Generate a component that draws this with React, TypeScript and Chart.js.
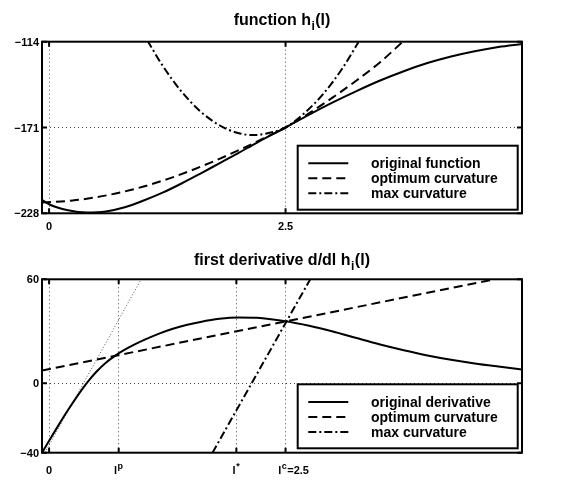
import React, { useEffect, useRef } from "react";
import { Chart, registerables } from "chart.js";

Chart.register(...registerables);

// ---------------- upper panel: function h_i(l) ----------------
const topTitle = "function h_i(l)";
const topLegend = ["original function", "optimum curvature", "max curvature"];
const topXTicks = [0, 2.5];
const topXTickLabels = ["0", "2.5"];
const topYTicks = [-228, -171, -114];
const topYTickLabels = ["\u2212228", "\u2212171", "\u2212114"];

const topOrigL = [-0.075, 0, 0.2, 0.4, 0.6, 0.8, 1.0, 1.2, 1.4, 1.6, 1.8, 2.0, 2.2, 2.5, 2.75, 3.0, 3.25, 3.5, 3.75, 4.0, 4.25, 4.5, 4.75, 5.0];
const topOrigH = [-219, -222, -226, -227.5, -226.8, -224, -219.5, -214.3, -208.2, -201.6, -194.8, -188, -181, -171, -162.4, -154.3, -146.8, -139.8, -133.6, -128.2, -123.8, -120.3, -117.5, -115.5];

const topOptL = [-0.075, 0.25, 0.5, 0.75, 1.0, 1.25, 1.5, 1.75, 2.0, 2.25, 2.5, 2.75, 3.0, 3.25, 3.5, 3.74];
const topOptH = [-220.8, -219.5, -217.3, -214.2, -210.2, -205.3, -199.6, -193.2, -186.2, -178.8, -171, -161.5, -151, -139.8, -127.6, -114];

const topMaxL = [1.04, 1.2, 1.4, 1.6, 1.8, 2.0, 2.16, 2.3, 2.5, 2.7, 2.9, 3.1, 3.27];
const topMaxH = [-113.3, -129.9, -147.1, -160.3, -169.5, -174.7, -176, -175, -171, -161.4, -148.6, -131.8, -114.4];

// ---------------- lower panel: first derivative ----------------
const botTitle = "first derivative d/dl h_i(l)";
const botLegend = ["original derivative", "optimum curvature", "max curvature"];
const botXTicks = [0, 0.736, 1.98, 2.5];
const botXTickLabels = ["0", "l^p", "l^*", "l^c=2.5"];
const botYTicks = [-40, 0, 60];
const botYTickLabels = ["\u221240", "0", "60"];

const botDerivL = [-0.075, 0, 0.1, 0.2, 0.3, 0.4, 0.5, 0.6, 0.7, 0.8, 0.9, 1.0, 1.15, 1.3, 1.45, 1.6, 1.8, 2.0, 2.2, 2.5, 2.75, 3.0, 3.25, 3.5, 3.75, 4.0, 4.25, 4.5, 4.75, 5.0];
const botDerivD = [-40, -33.1, -24.1, -15.4, -7.2, 0.3, 6.7, 11.9, 16.0, 19.4, 22.3, 24.9, 28.4, 31.3, 33.6, 35.4, 37.2, 38, 37.8, 35.8, 33.2, 29.9, 26.1, 22.4, 19.1, 16.1, 13.6, 11.5, 9.7, 8];

const botOptL = [-0.075, 4.71];
const botOptD = [7.4, 60];

const botMaxL = [1.728, 2.761];
const botMaxD = [-40, 60];

const botTanL = [-0.044, 0.973];
const botTanD = [-40, 60];

// ---------------- styling ----------------
const FAMILY = "'Liberation Sans', Arial, Helvetica, sans-serif";
const DASHED = [9, 5];
const DASHDOT = [8, 3, 2, 3];
const X_MIN = -0.075;
const X_MAX = 5.0;

type Seg = { t: string; mode: number };

function parseRich(text: string): Seg[] {
  const segs: Seg[] = [];
  let i = 0;
  while (i < text.length) {
    const c = text[i];
    if ((c === "^" || c === "_") && i + 1 < text.length) {
      segs.push({ t: text[i + 1], mode: c === "^" ? 1 : -1 });
      i += 2;
    } else {
      const last = segs[segs.length - 1];
      if (last && last.mode === 0) last.t += c;
      else segs.push({ t: c, mode: 0 });
      i++;
    }
  }
  return segs;
}

function drawRich(ctx: CanvasRenderingContext2D, text: string, x: number, y: number, size: number, align: string, supRatio = 0.72) {
  const segs = parseRich(text);
  const small = Math.round(size * supRatio);
  const fontOf = (m: number) => `bold ${m === 0 ? size : small}px ${FAMILY}`;
  const gap = 0.5;
  let w = 0;
  for (const s of segs) {
    ctx.font = fontOf(s.mode);
    w += ctx.measureText(s.t).width + (s.mode !== 0 ? gap * 2 : 0);
  }
  let sx = align === "center" ? x - w / 2 : align === "right" ? x - w : x;
  ctx.textAlign = "left";
  ctx.textBaseline = "alphabetic";
  for (const s of segs) {
    ctx.font = fontOf(s.mode);
    const dy = s.mode === 1 ? -size * 0.45 : s.mode === -1 ? size * 0.3 : 0;
    if (s.mode !== 0) sx += gap;
    ctx.fillText(s.t, sx, y + dy);
    sx += ctx.measureText(s.t).width + (s.mode !== 0 ? gap : 0);
  }
}

type PanelCfg = {
  title: string;
  titleBaseline: number;
  legend: string[];
  legendDash: number[][];
  xTicks: number[];
  xTickLabels: string[];
  xLabelOffsets: number[];
  xLabelBaseline: number;
  yTicks: number[];
  yTickLabels: string[];
  yMin: number;
  yMax: number;
  padTop: number;
  padBottom: number;
  height: number;
  legendTop: number;
  datasets: any[];
};

function makeDeco(cfg: PanelCfg) {
  return {
    id: "panelDeco",
    afterDraw(chart: any) {
      const ctx: CanvasRenderingContext2D = chart.ctx;
      const { left, right, top, bottom } = chart.chartArea;
      const xs = chart.scales.x;
      const ys = chart.scales.y;
      ctx.save();
      ctx.fillStyle = "#000";
      ctx.strokeStyle = "#000";

      // legend box
      const lx = 297.7;
      const lw = right - 4.3 - lx;
      const ly = top + cfg.legendTop;
      const lh = 64;
      ctx.fillStyle = "#fff";
      ctx.fillRect(lx, ly, lw, lh);
      ctx.lineWidth = 2;
      ctx.setLineDash([]);
      ctx.strokeRect(lx, ly, lw, lh);
      cfg.legend.forEach((lab, i) => {
        const cy = ly + 17.6 + i * 15;
        ctx.beginPath();
        ctx.setLineDash(cfg.legendDash[i]);
        ctx.lineWidth = 2;
        ctx.moveTo(lx + 10.6, cy);
        ctx.lineTo(lx + 50.6, cy);
        ctx.stroke();
        ctx.setLineDash([]);
        ctx.fillStyle = "#000";
        drawRich(ctx, lab, lx + 73.3, cy + 5, 14, "left");
      });

      // axes box
      ctx.setLineDash([]);
      ctx.lineWidth = 2;
      ctx.strokeRect(left, top, right - left, bottom - top);

      // inward tick marks
      ctx.beginPath();
      cfg.xTicks.forEach((v) => {
        const px = xs.getPixelForValue(v);
        ctx.moveTo(px, bottom);
        ctx.lineTo(px, bottom - 5);
        ctx.moveTo(px, top);
        ctx.lineTo(px, top + 5);
      });
      cfg.yTicks.forEach((v) => {
        const py = ys.getPixelForValue(v);
        ctx.moveTo(left, py);
        ctx.lineTo(left + 5, py);
        ctx.moveTo(right, py);
        ctx.lineTo(right - 5, py);
      });
      ctx.stroke();

      // tick labels
      ctx.fillStyle = "#000";
      cfg.xTicks.forEach((v, i) => {
        const px = xs.getPixelForValue(v);
        drawRich(ctx, cfg.xTickLabels[i], px + cfg.xLabelOffsets[i], cfg.xLabelBaseline, 11, "center", 0.8);
      });
      cfg.yTicks.forEach((v, i) => {
        const py = ys.getPixelForValue(v);
        drawRich(ctx, cfg.yTickLabels[i], left - 3, py + 4, 11, "right");
      });

      // title
      drawRich(ctx, cfg.title, (left + right) / 2, cfg.titleBaseline, 16, "center");
      ctx.restore();
    },
  };
}

function toPts(xs: number[], ys: number[]) {
  return xs.map((x, i) => ({ x, y: ys[i] }));
}

function Panel({ cfg, offsetTop }: { cfg: PanelCfg; offsetTop: number }) {
  const ref = useRef<HTMLCanvasElement>(null);
  useEffect(() => {
    const canvas = ref.current;
    if (!canvas) return;
    const chart = new Chart(canvas, {
      type: "scatter",
      data: { datasets: cfg.datasets },
      options: {
        animation: false,
        responsive: false,
        devicePixelRatio: 1,
        layout: { padding: { left: 42, right: 49, top: cfg.padTop, bottom: cfg.padBottom } },
        plugins: {
          legend: { display: false },
          tooltip: { enabled: false },
          title: { display: false },
        },
        elements: { point: { radius: 0 } },
        scales: {
          x: {
            type: "linear",
            min: X_MIN,
            max: X_MAX,
            afterBuildTicks: (s: any) => {
              s.ticks = cfg.xTicks.map((v) => ({ value: v }));
            },
            afterFit: (s: any) => {
              s.height = 0;
            },
            ticks: { display: false },
            grid: { color: "#444", lineWidth: 1, drawTicks: false },
            border: { display: false, dash: [1, 3] },
          },
          y: {
            type: "linear",
            min: cfg.yMin,
            max: cfg.yMax,
            afterBuildTicks: (s: any) => {
              s.ticks = cfg.yTicks.map((v) => ({ value: v }));
            },
            afterFit: (s: any) => {
              s.width = 0;
            },
            ticks: { display: false },
            grid: { color: "#444", lineWidth: 1, drawTicks: false },
            border: { display: false, dash: [1, 3] },
          },
        },
      } as any,
      plugins: [makeDeco(cfg)],
    });
    return () => chart.destroy();
  }, []);
  return (
    <canvas
      ref={ref}
      width={571}
      height={cfg.height}
      style={{ position: "absolute", left: 0, top: offsetTop, width: 571, height: cfg.height, display: "block" }}
    />
  );
}

const lineBase = { showLine: true, pointRadius: 0, borderColor: "#000", borderWidth: 2, fill: false };

const topCfg: PanelCfg = {
  title: topTitle,
  titleBaseline: 25,
  legend: topLegend,
  legendDash: [[], DASHED, DASHDOT],
  xTicks: topXTicks,
  xTickLabels: topXTickLabels,
  xLabelOffsets: [0, 0],
  xLabelBaseline: 230,
  yTicks: topYTicks,
  yTickLabels: topYTickLabels,
  yMin: -228,
  yMax: -114,
  padTop: 41.7,
  padBottom: 28.7,
  height: 242,
  legendTop: 104,
  datasets: [
    { ...lineBase, label: topLegend[0], data: toPts(topOrigL, topOrigH), cubicInterpolationMode: "monotone" },
    { ...lineBase, label: topLegend[1], data: toPts(topOptL, topOptH), borderDash: DASHED, cubicInterpolationMode: "monotone" },
    { ...lineBase, label: topLegend[2], data: toPts(topMaxL, topMaxH), borderDash: DASHDOT, cubicInterpolationMode: "monotone" },
  ],
};

const botCfg: PanelCfg = {
  title: botTitle,
  titleBaseline: 23,
  legend: botLegend,
  legendDash: [[], DASHED, DASHDOT],
  xTicks: botXTicks,
  xTickLabels: botXTickLabels,
  xLabelOffsets: [0, 0, 0, 8],
  xLabelBaseline: 232,
  yTicks: botYTicks,
  yTickLabels: botYTickLabels,
  yMin: -40,
  yMax: 60,
  padTop: 37.3,
  padBottom: 32.3,
  height: 243,
  legendTop: 105,
  datasets: [
    { ...lineBase, label: botLegend[0], data: toPts(botDerivL, botDerivD), cubicInterpolationMode: "monotone" },
    { ...lineBase, label: botLegend[1], data: toPts(botOptL, botOptD), borderDash: DASHED },
    { ...lineBase, label: botLegend[2], data: toPts(botMaxL, botMaxD), borderDash: DASHDOT },
    { ...lineBase, label: "tangent", data: toPts(botTanL, botTanD), borderDash: [1, 2], borderWidth: 1, borderColor: "#555" },
  ],
};

export default function App() {
  return (
    <div style={{ position: "absolute", left: 0, top: 0, width: 571, height: 485, background: "#fff", overflow: "hidden" }}>
      <Panel cfg={topCfg} offsetTop={0} />
      <Panel cfg={botCfg} offsetTop={242} />
    </div>
  );
}
